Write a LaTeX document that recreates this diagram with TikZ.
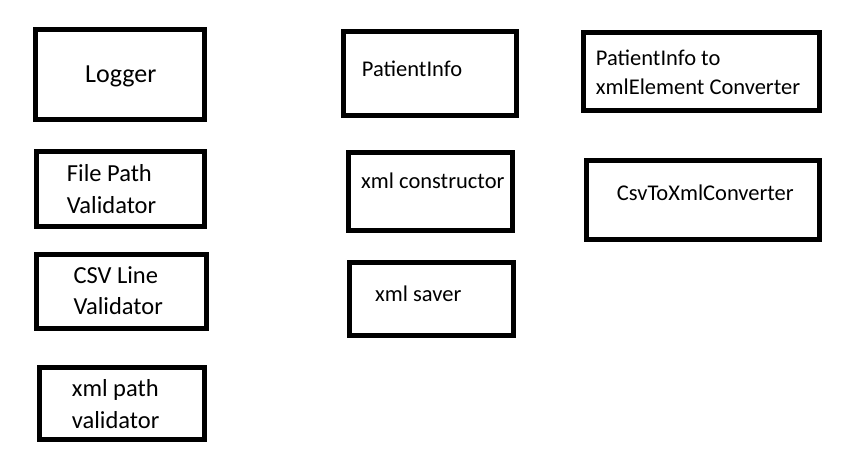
\documentclass[tikz,border=0pt]{standalone}
\usepackage{fontspec}
\setmainfont{Carlito}
\begin{document}
\begin{tikzpicture}[x=1pt,y=-1pt,
  box/.style={draw=black,line width=5pt,rectangle,inner sep=0pt},
  lbl/.style={anchor=base west,inner sep=0pt,text=black},
  big/.style={font=\fontsize{24.5}{31}\selectfont},
  mid/.style={font=\fontsize{22.5}{29}\selectfont}]
\useasboundingbox (0,0) rectangle (853,452);
% boxes
\draw[box] (35.8,29.8) rectangle (204.2,119.2) node[pos=0.5,inner sep=0] (logger) {};
\draw[box] (36.8,151.8) rectangle (204.3,226.5) node[pos=0.5,inner sep=0] (fpv) {};
\draw[box] (36.8,254.2) rectangle (206.5,328.2) node[pos=0.5,inner sep=0] (csv) {};
\draw[box] (39.8,367.5) rectangle (204.2,439.2) node[pos=0.5,inner sep=0] (xpv) {};
\draw[box] (343.5,31.8) rectangle (516.5,115.2) node[pos=0.5,inner sep=0] (pi) {};
\draw[box] (348.5,152.5) rectangle (512.5,230.2) node[pos=0.5,inner sep=0] (xc) {};
\draw[box] (349.8,262.5) rectangle (513.5,335.2) node[pos=0.5,inner sep=0] (xs) {};
\draw[box] (583.5,32.5) rectangle (819.2,110.8) node[pos=0.5,inner sep=0] (pix) {};
\draw[box] (586.5,160.8) rectangle (819.2,239.2) node[pos=0.5,inner sep=0] (c2x) {};
% texts
\node[lbl,font=\fontsize{26}{31}\selectfont] (tlogger) at (85,82) {Logger};
\node[lbl,big] (tfpv1) at (66.7,181.7) {File Path};
\node[lbl,big] (tfpv2) at (66.7,213.3) {Validator};
\node[lbl,big] (tcsv1) at (73.3,283.3) {CSV Line};
\node[lbl,big] (tcsv2) at (73.3,314) {Validator};
\node[lbl,big] (txpv1) at (71.7,396.7) {xml path};
\node[lbl,big] (txpv2) at (71.7,428.3) {validator};
\node[lbl,mid] (tpi) at (361.7,76) {PatientInfo};
\node[lbl,mid] (txc) at (361,188.3) {xml constructor};
\node[lbl,mid] (txs) at (375,301.7) {xml saver};
\node[lbl,mid] (tpix1) at (595.7,65) {PatientInfo to};
\node[lbl,mid] (tpix2) at (595.7,94) {xmlElement Converter};
\node[lbl,mid] (tc2x) at (616.7,200) {CsvToXmlConverter};
\end{tikzpicture}
\end{document}
